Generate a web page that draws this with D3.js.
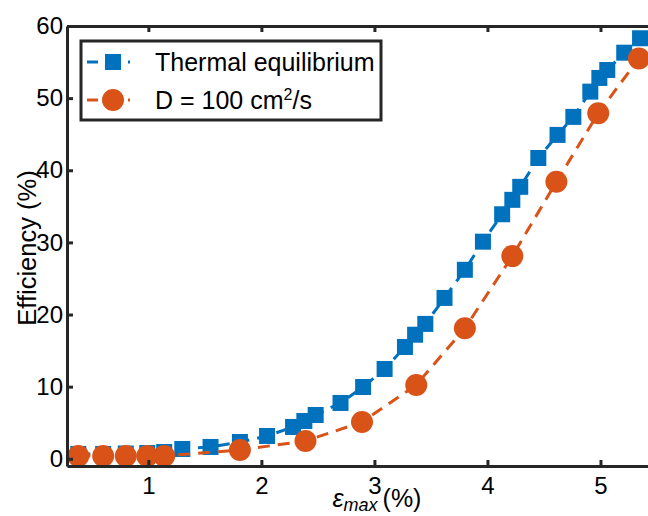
<!DOCTYPE html>
<html>
<head>
<meta charset="utf-8">
<script src="https://cdn.jsdelivr.net/npm/d3@7"></script>
<style>
body { margin: 0; background: #ffffff; }
svg text { font-family: "Liberation Sans", Arial, sans-serif; fill: #000000; }
</style>
</head>
<body>
<div id="chartdiv"></div>
<script>
/*jslint browser, multivar, white */
/*global d3 */

var thermalX = [0.38, 0.60, 0.80, 0.99, 1.14, 1.30, 1.55, 1.81, 2.05, 2.28,
                2.38, 2.48, 2.70, 2.90, 3.09, 3.27, 3.36, 3.45, 3.62, 3.80,
                3.96, 4.13, 4.22, 4.29, 4.45, 4.62, 4.76, 4.91, 4.99, 5.06,
                5.21, 5.35],
    thermalY = [0.67, 0.67, 0.73, 0.8, 0.94, 1.36, 1.64, 2.33, 3.16, 4.41,
                5.24, 6.07, 7.74, 9.95, 12.45, 15.5, 17.2, 18.7, 22.3, 26.2,
                30.1, 33.9, 35.9, 37.7, 41.7, 44.9, 47.4, 50.9, 52.8, 53.9,
                56.3, 58.3],
    diffX = [0.38, 0.60, 0.80, 0.99, 1.14, 1.81, 2.39, 2.89, 3.37, 3.80,
             4.22, 4.61, 4.98, 5.34],
    diffY = [0.39, 0.39, 0.39, 0.39, 0.39, 1.22, 2.47, 5.1, 10.24, 18.1,
             28.1, 38.4, 47.9, 55.5],
    xTicks = [1, 2, 3, 4, 5],
    yTicks = [0, 10, 20, 30, 40, 50, 60],
    seriesNames = ["Thermal equilibrium", "D = 100 cm", "2", "/s"];

(function () {
    "use strict";

    var W = 648, H = 516,
        blue = "#0072BD", orange = "#D95319", axcol = "#262626",
        x, y, svg, line, tl = 6, fmt = d3.format("d");

    function pts(xs, ys) {
        return xs.map(function (v, i) { return [v, ys[i]]; });
    }

    function styleAxis(g) {
        g.select(".domain").attr("stroke", axcol).attr("stroke-width", 3);
        g.selectAll(".tick line").attr("stroke", axcol).attr("stroke-width", 3);
        g.selectAll("text").attr("font-size", 24).attr("fill", "#000")
            .attr("font-family", "Liberation Sans, Arial, sans-serif");
    }

    x = d3.scaleLinear().domain([0.28, 5.5]).range([67, 657]);
    y = d3.scaleLinear().domain([-1, 60]).range([466, 26]);

    svg = d3.select("#chartdiv").append("svg")
        .attr("width", W).attr("height", H);

    line = d3.line()
        .x(function (d) { return x(d[0]); })
        .y(function (d) { return y(d[1]); });

    //thermal series: dashed line then squares
    svg.append("path")
        .datum(pts(thermalX, thermalY))
        .attr("d", line)
        .attr("fill", "none")
        .attr("stroke", blue)
        .attr("stroke-width", 3)
        .attr("stroke-dasharray", "12,8");
    svg.selectAll("rect.sq")
        .data(pts(thermalX, thermalY))
        .enter().append("rect")
        .attr("class", "sq")
        .attr("x", function (d) { return x(d[0]) - 8; })
        .attr("y", function (d) { return y(d[1]) - 8; })
        .attr("width", 16).attr("height", 16)
        .attr("fill", blue);

    //diffusion series: dashed line then circles
    svg.append("path")
        .datum(pts(diffX, diffY))
        .attr("d", line)
        .attr("fill", "none")
        .attr("stroke", orange)
        .attr("stroke-width", 3)
        .attr("stroke-dasharray", "12,8");
    svg.selectAll("circle.dot")
        .data(pts(diffX, diffY))
        .enter().append("circle")
        .attr("class", "dot")
        .attr("cx", function (d) { return x(d[0]); })
        .attr("cy", function (d) { return y(d[1]); })
        .attr("r", 11)
        .attr("fill", orange);

    //axes box with inward ticks
    svg.append("g")
        .attr("transform", "translate(0," + y.range()[0] + ")")
        .call(d3.axisBottom(x).tickValues(xTicks).tickFormat(fmt)
              .tickSizeInner(-tl).tickSizeOuter(0).tickPadding(11))
        .call(styleAxis);
    svg.append("g")
        .attr("transform", "translate(0," + y.range()[1] + ")")
        .call(d3.axisTop(x).tickValues(xTicks).tickSizeInner(-tl)
              .tickSizeOuter(0).tickFormat(""))
        .call(styleAxis);
    svg.append("g")
        .attr("transform", "translate(" + x.range()[0] + ",0)")
        .call(d3.axisLeft(y).tickValues(yTicks).tickFormat(fmt)
              .tickSizeInner(-tl).tickSizeOuter(0).tickPadding(4))
        .call(styleAxis);

    //axis labels
    svg.append("text")
        .attr("transform", "translate(36,248) rotate(-90)")
        .attr("text-anchor", "middle")
        .attr("font-size", 25.5)
        .text("Efficiency (%)");
    (function () {
        var t = svg.append("text")
            .attr("x", 377).attr("y", 507)
            .attr("text-anchor", "middle")
            .attr("font-size", 25);
        t.append("tspan").attr("font-style", "italic").text("\u03b5");
        t.append("tspan").attr("font-style", "italic").attr("font-size", 18)
            .attr("dy", 4).text("max");
        t.append("tspan").attr("dy", -4).text("\u2009(%)");
    }());

    //legend
    (function () {
        var lg = svg.append("g"), t;
        lg.append("rect")
            .attr("x", 81).attr("y", 41).attr("width", 300).attr("height", 79)
            .attr("fill", "#ffffff")
            .attr("stroke", axcol).attr("stroke-width", 3);
        [[62, blue], [100, orange]].forEach(function (r) {
            lg.append("line")
                .attr("x1", 87).attr("x2", 141)
                .attr("y1", r[0]).attr("y2", r[0])
                .attr("stroke", r[1]).attr("stroke-width", 3)
                .attr("stroke-dasharray", "11,30,2,20");
        });
        lg.append("rect")
            .attr("x", 105).attr("y", 54).attr("width", 16).attr("height", 16)
            .attr("fill", blue);
        lg.append("circle")
            .attr("cx", 113).attr("cy", 100).attr("r", 11)
            .attr("fill", orange);
        lg.append("text")
            .attr("x", 155).attr("y", 71)
            .attr("font-size", 25)
            .text(seriesNames[0]);
        t = lg.append("text")
            .attr("x", 155).attr("y", 109)
            .attr("font-size", 25);
        t.append("tspan").text(seriesNames[1]);
        t.append("tspan").attr("font-size", 16).attr("dy", -9).text(seriesNames[2]);
        t.append("tspan").attr("dy", 9).text(seriesNames[3]);
    }());
}());
</script>
</body>
</html>
